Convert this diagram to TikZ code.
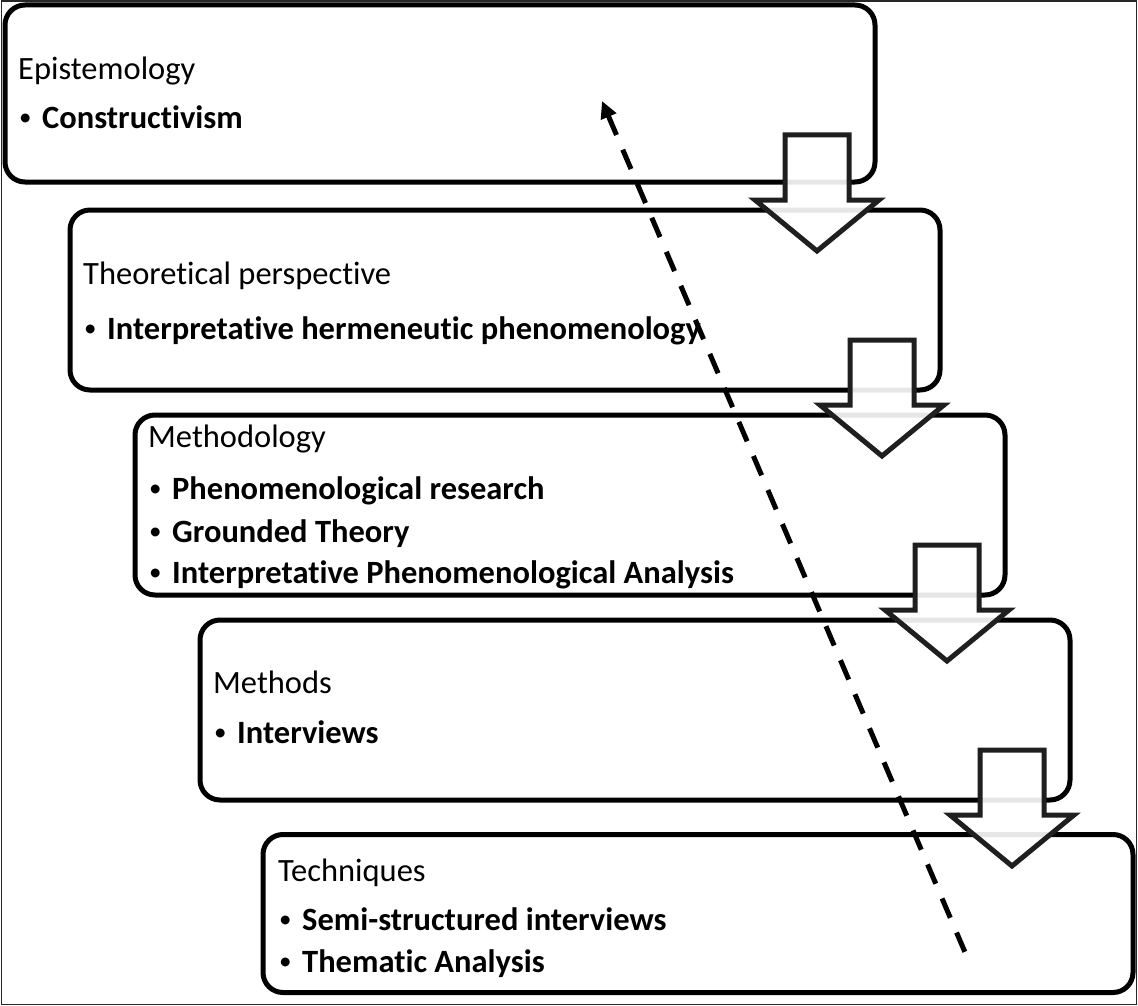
\documentclass[tikz,border=0pt]{standalone}
\usepackage{fontspec}
\setmainfont{Carlito}[RawFeature={-liga}]
\usetikzlibrary{arrows.meta}
\tikzset{
  stagebox/.style={draw=black, line width=5pt, rounded corners=20pt, fill=white,
    minimum width=870pt, inner sep=0pt},
  blockarrow/.style={draw=black!88, line width=5pt, fill=white, fill opacity=0.9, line join=miter},
  titletext/.style={anchor=base west, inner sep=0pt, font=\fontsize{32.5}{39}\selectfont},
  itemtext/.style={anchor=base west, inner sep=0pt, font=\fontsize{32.5}{39}\selectfont\bfseries},
  dottext/.style={anchor=base west, inner sep=0pt, font=\fontsize{25}{30}\selectfont},
  frameline/.style={draw=black!85, line width=1.5pt},
  flowline/.style={draw=black, line width=5pt, dash pattern=on 21pt off 16pt},
}
\begin{document}
\begin{tikzpicture}[x=1pt,y=-1pt]
\useasboundingbox (0,0) rectangle (1138,1006);
\draw[frameline] (1.5,1.2) rectangle (1136.5,1004.5);

% stage boxes
\node[stagebox, minimum height=177pt] (b1) at (440,93.5) {};
\node[stagebox, minimum height=180pt] (b2) at (505,300) {};
\node[stagebox, minimum height=180pt] (b3) at (570,505) {};
\node[stagebox, minimum height=180pt] (b4) at (635,710) {};
\node[stagebox, minimum height=158pt] (b5) at (698,913.5) {};

% texts box 1
\node[titletext] (t1) at (18,80) {Epistemology};
\node[dottext] (d1a) at (19,126) {•};
\node[itemtext] (i1a) at (42,129) {Constructivism};

% texts box 2
\node[titletext] (t2) at (83,284) {Theoretical perspective};
\node[dottext] (d2a) at (84,336) {•};
\node[itemtext] (i2a) at (107,339) {Interpretative hermeneutic phenomenology};

% texts box 3
\node[titletext] (t3) at (148,447) {Methodology};
\node[dottext] (d3a) at (149,496) {•};
\node[itemtext] (i3a) at (172,499) {Phenomenological research};
\node[dottext] (d3b) at (149,539) {•};
\node[itemtext] (i3b) at (172,542) {Grounded Theory};
\node[dottext] (d3c) at (149,580) {•};
\node[itemtext] (i3c) at (172,583) {Interpretative Phenomenological Analysis};

% texts box 4
\node[titletext] (t4) at (213,693) {Methods};
\node[dottext] (d4a) at (214,740) {•};
\node[itemtext] (i4a) at (237,743) {Interviews};

% texts box 5
\node[titletext] (t5) at (278,881) {Techniques};
\node[dottext] (d5a) at (279,927) {•};
\node[itemtext] (i5a) at (302,930) {Semi-structured interviews};
\node[dottext] (d5b) at (279,969) {•};
\node[itemtext] (i5b) at (302,972) {Thematic Analysis};

% block arrows between stages
\foreach \i in {0,1,2,3}{
  \pgfmathsetmacro{\cx}{817+65*\i}
  \pgfmathsetmacro{\ty}{135+205*\i}
  \draw[blockarrow] (\cx-32,\ty) -- (\cx+32,\ty) -- (\cx+32,\ty+65) -- (\cx+62,\ty+65)
     -- (\cx,\ty+116) -- (\cx-62,\ty+65) -- (\cx-32,\ty+65) -- cycle;
}

% dashed feedback arrow
\coordinate (dtop) at (602,101);
\coordinate (dbot) at (970,964);
\draw[flowline, {Triangle[length=17pt,width=16pt]}-] (dtop) -- (dbot);
\end{tikzpicture}
\end{document}
